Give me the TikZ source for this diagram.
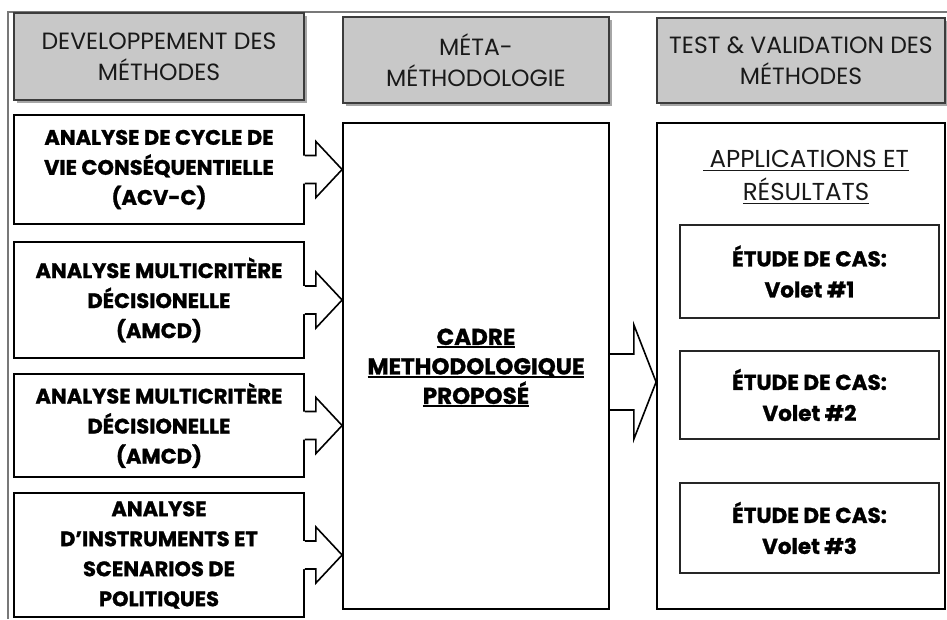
\documentclass[tikz,border=0pt]{standalone}
\usepackage{fontspec}
\setmainfont{Poppins}[BoldFeatures={FakeBold=1.2}]
\usetikzlibrary{shadows,calc}

\definecolor{headfill}{RGB}{200,200,200}
\definecolor{headline}{RGB}{60,60,60}
\definecolor{framegray}{RGB}{120,120,120}

% underline with a chosen depth and thickness
\newcommand{\ulbar}[3]{\setbox0\hbox{#3}\rlap{\rule[-#1]{\wd0}{#2}}\box0}

\tikzset{
  headbox/.style={draw=headline, line width=1.5pt, fill=headfill,
    drop shadow={shadow xshift=2.5pt, shadow yshift=-2.5pt, fill=black, opacity=0.35},
    align=center, inner sep=0pt, font=\fontsize{23.5}{31}\selectfont, text=black!90},
  srcbox/.style={draw=black, line width=1.8pt, fill=white, align=center,
    inner sep=0pt, font=\bfseries\fontsize{21}{30}\selectfont},
  bigbox/.style={draw=black, line width=1.8pt, fill=white, inner sep=0pt},
  casebox/.style={draw=black!85, line width=1.5pt, fill=white, align=center,
    inner sep=0pt, font=\bfseries\fontsize{21.5}{31}\selectfont},
  blockarrow/.style={draw=black, line width=1.6pt, line join=miter},
}

\begin{document}
\begin{tikzpicture}[x=1pt, y=-1pt]
\useasboundingbox (0,0) rectangle (947,619);

% outer frame lines
\draw[framegray, line width=1.2pt] (8,619) -- (8,12) -- (947,12);

% column headers
\node[headbox, minimum width=290pt, minimum height=87pt] (h1) at (159,56.5)
  {DEVELOPPEMENT DES\\MÉTHODES};
\node[headbox, minimum width=266pt, minimum height=86pt] (h2) at (476,60)
  {MÉTA-\\MÉTHODOLOGIE};
\node[headbox, minimum width=288pt, minimum height=85pt] (h3) at (801,60.5)
  {TEST \& VALIDATION DES\\MÉTHODES};

% method boxes
\node[srcbox, minimum width=290pt, minimum height=109pt] (l1) at (159,169.5)
  {ANALYSE DE CYCLE DE\\VIE CONSÉQUENTIELLE\\(ACV-C)};
\node[srcbox, minimum width=290pt, minimum height=116pt] (l2) at (159,300)
  {ANALYSE MULTICRITÈRE\\DÉCISIONELLE\\(AMCD)};
\node[srcbox, minimum width=290pt, minimum height=103pt] (l3) at (159,425.5)
  {ANALYSE MULTICRITÈRE\\DÉCISIONELLE\\(AMCD)};
\node[srcbox, minimum width=290pt, minimum height=124pt] (l4) at (159,555)
  {ANALYSE\\D’INSTRUMENTS ET\\SCENARIOS DE\\POLITIQUES};

% central framework
\node[bigbox, minimum width=266pt, minimum height=486pt] (cadre) at (476,366) {};
\node[align=center, font=\bfseries\fontsize{23}{29.5}\selectfont] (cadretxt) at (476,368)
  {\ulbar{3.5pt}{2pt}{CADRE}\\\ulbar{3.5pt}{2pt}{METHODOLOGIQUE}\\\ulbar{3.5pt}{2pt}{PROPOSÉ}};

% applications
\node[bigbox, minimum width=288pt, minimum height=486pt] (appl) at (801,366) {};
\node[align=center, font=\fontsize{24.5}{33}\selectfont, text=black!90] (appltxt) at (806,177)
  {\ulbar{4pt}{1.4pt}{\ APPLICATIONS ET}\\\ulbar{4pt}{1.4pt}{RÉSULTATS}};
\node[casebox, minimum width=259pt, minimum height=93pt] (e1) at (809.5,271.5)
  {ÉTUDE DE CAS:\\Volet \#1};
\node[casebox, minimum width=259pt, minimum height=88pt] (e2) at (809.5,395)
  {ÉTUDE DE CAS:\\Volet \#2};
\node[casebox, minimum width=259pt, minimum height=90pt] (e3) at (809.5,528)
  {ÉTUDE DE CAS:\\Volet \#3};

% block arrows from each method into the framework
\foreach \src in {l1,l2,l3,l4}{
  \coordinate (a) at (\src.east);
  \fill[white] ($(a)+(-4,-14)$) -- ($(a)+(11,-14)$) -- ($(a)+(11,-28)$)
    -- (cadre.west |- a) -- ($(a)+(11,28)$) -- ($(a)+(11,14)$) -- ($(a)+(-4,14)$) -- cycle;
  \draw[blockarrow] ($(a)+(0,-14)$) -- ($(a)+(11,-14)$) -- ($(a)+(11,-28)$)
    -- (cadre.west |- a) -- ($(a)+(11,28)$) -- ($(a)+(11,14)$) -- ($(a)+(0,14)$);
}

% block arrow from the framework to the applications
\coordinate (m) at ($(cadre.east)+(0,16)$);
\draw[blockarrow] ($(m)+(0,-28)$) -- ($(m)+(24,-28)$) -- ($(m)+(24,-57)$)
  -- (appl.west |- m) -- ($(m)+(24,57)$) -- ($(m)+(24,28)$) -- ($(m)+(0,28)$);
\end{tikzpicture}
\end{document}
